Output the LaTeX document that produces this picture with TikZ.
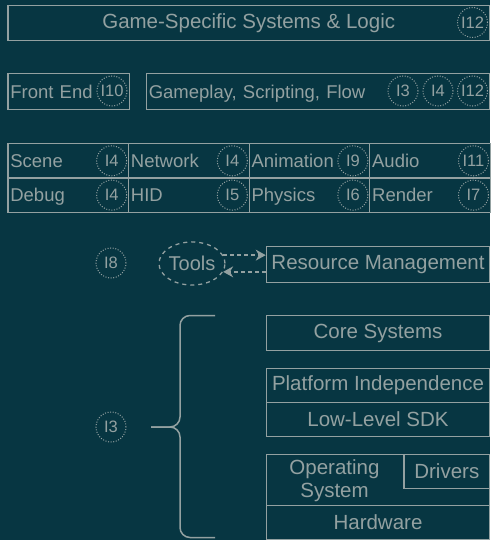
\documentclass[tikz,border=0pt]{standalone}
\usepackage{fontspec}
\setmainfont{Liberation Sans}
\usetikzlibrary{arrows.meta,shapes.geometric}
\definecolor{bg}{HTML}{073642}
\definecolor{fg}{HTML}{93A1A1}
\newcommand{\cellstrut}{\rule[-3.4pt]{0pt}{20pt}}
\tikzset{
  box/.style={draw=fg, line width=1.3pt, text=fg, inner sep=2.4pt,
    font=\fontsize{20.5}{23}\selectfont},
  small/.style={font=\fontsize{18.5}{21}\selectfont},
  cell/.style={box, small, anchor=north west, align=left,
    execute at begin node=\cellstrut},
  layer/.style={box, anchor=north west, minimum width=223.3pt},
  tag/.style={circle, draw=fg, text=fg, line width=1pt,
    dash pattern=on 1pt off 1.6pt, minimum size=30pt, inner sep=0pt,
    font=\fontsize{16.5}{18}\selectfont},
  flow/.style={draw=fg, line width=1.3pt, dash pattern=on 4pt off 3pt,
    -{Stealth[length=10pt,width=11pt]}},
  brace/.style={draw=fg, line width=1.5pt, rounded corners=10pt}
}
\begin{document}
\begin{tikzpicture}[x=1pt,y=-1pt]
  \fill[bg] (0,0) rectangle (490,540);
  \useasboundingbox (0,0) rectangle (490,540);

  % game layer
  \node[box, anchor=north west, minimum width=481.5pt, minimum height=35pt]
    (game) at (7.3,5) {Game-Specific Systems \& Logic};
  \node[tag] (game-tag) at (472.5,22.5) {I12};

  \node[cell, text width=116.9pt, minimum height=36pt] (front) at (7.3,73) {Front End};
  \node[tag] (front-tag) at (112,91) {I10};
  \node[cell, text width=338.5pt, minimum height=36pt] (play) at (145.7,73)
    {Gameplay, Scripting, Flow};
  \node[tag] (play-a) at (403,91) {I3};
  \node[tag] (play-b) at (438,91) {I4};
  \node[tag] (play-c) at (472.5,91) {I12};

  % subsystems
  \foreach \name/\txt/\num [count=\i from 0] in
      {scene/Scene/I4, net/Network/I4, anim/Animation/I9, audio/Audio/I11}{
    \node[cell, text width=115.8pt, minimum height=34.3pt] (\name)
      at (7.3+120.6*\i,143) {\txt};
    \node[tag] (\name-tag) at ([xshift=-17.5pt]\name.east) {\num};
  }
  \foreach \name/\txt/\num [count=\i from 0] in
      {debug/Debug/I4, hid/HID/I5, phys/Physics/I6, render/Render/I7}{
    \node[cell, text width=115.8pt, minimum height=34.3pt] (\name)
      at (7.3+120.6*\i,177.3) {\txt};
    \node[tag] (\name-tag) at ([xshift=-17.5pt]\name.east) {\num};
  }

  % tools and resources
  \node[tag] (tools-tag) at (111,263) {I8};
  \node[ellipse, draw=fg, text=fg, line width=1.3pt, dash pattern=on 4pt off 4pt,
    minimum width=57pt, minimum height=43pt, inner sep=0pt,
    font=\fontsize{20}{22}\selectfont] (tools) at (192,263.5) {Tools};
  \node[layer, minimum height=36pt] (res) at (265.7,245.7) {Resource Management};
  \draw[flow] (tools.15) -- (tools.15 -| res.west);
  \draw[flow] (tools.-15 -| res.west) -- (tools.-15);

  % engine core
  \node[layer, minimum height=35pt] (core) at (265.7,315) {Core Systems};
  \node[layer, minimum height=34pt] (plat) at (265.7,367.7) {Platform Independence};
  \node[layer, minimum height=34.3pt] (sdk) at (265.7,401.7) {Low-Level SDK};
  \node[layer, minimum height=50.5pt] (os) at (265.7,454) {};
  \node[box, anchor=north east, minimum width=85.7pt, minimum height=34pt]
    (drv) at (os.north east) {Drivers};
  \node[text=fg, align=center, inner sep=0pt, font=\fontsize{20.5}{23}\selectfont]
    (os-txt) at (334.5,481) {Operating\\System};
  \node[layer, minimum height=34.5pt] (hw) at (265.7,504.5) {Hardware};

  \node[tag] (core-tag) at (111,427) {I3};
  \coordinate (tip) at (151,427);
  \draw[brace] (215,315.5) -- (180,315.5) -- (180,427) -- (tip);
  \draw[brace] (215,537.5) -- (180,537.5) -- (180,427) -- (tip);
\end{tikzpicture}
\end{document}
